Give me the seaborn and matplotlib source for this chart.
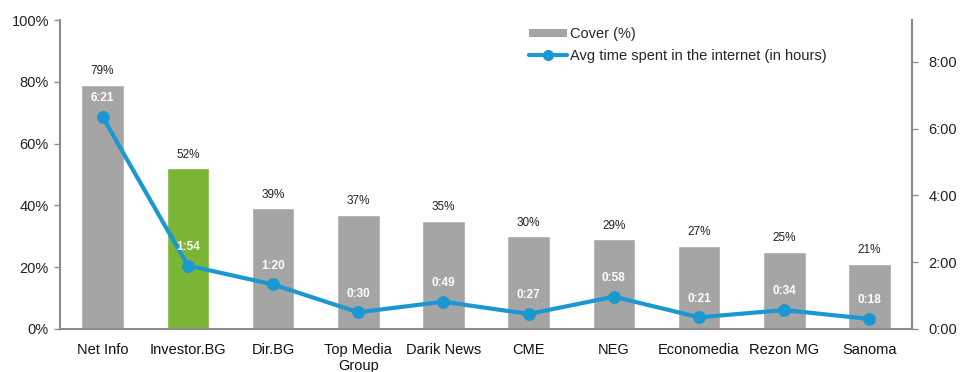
import matplotlib
matplotlib.use("Agg")
import matplotlib.pyplot as plt
import seaborn as sns
import pandas as pd
from matplotlib.patches import Patch
from matplotlib.lines import Line2D
from matplotlib.ticker import FixedLocator

categories = ["Net Info", "Investor.BG", "Dir.BG", "Top Media\nGroup", "Darik News",
              "CME", "NEG", "Economedia", "Rezon MG", "Sanoma"]
cover = [0.79, 0.52, 0.39, 0.37, 0.35, 0.30, 0.29, 0.27, 0.25, 0.21]
time_labels = ["6:21", "1:54", "1:20", "0:30", "0:49", "0:27", "0:58", "0:21", "0:34", "0:18"]
hours = [6 + 21/60, 1 + 54/60, 1 + 20/60, 30/60, 49/60, 27/60, 58/60, 21/60, 34/60, 18/60]
cover_labels = ["79%", "52%", "39%", "37%", "35%", "30%", "29%", "27%", "25%", "21%"]
left_ticks = [0, 0.2, 0.4, 0.6, 0.8, 1.0]
left_ticklabels = ["0%", "20%", "40%", "60%", "80%", "100%"]
right_ticks = [0, 2, 4, 6, 8]
right_ticklabels = ["0:00", "2:00", "4:00", "6:00", "8:00"]

GRAY = "#a5a5a5"
GREEN = "#7ab535"
BLUE = "#1b98d1"
AXC = "#8c8c8c"

sns.set_style("white")
plt.rcParams["font.family"] = ["Liberation Sans", "DejaVu Sans"]

df = pd.DataFrame({"cat": categories, "cover": cover, "hours": hours})
palette = [GREEN if c == "Investor.BG" else GRAY for c in categories]

fig = plt.figure(figsize=(9.61, 3.72), dpi=100)
ax = fig.add_axes([60/961, (372-329)/372, (912-60)/961, (329-20)/372])

sns.barplot(data=df, x="cat", y="cover", hue="cat", palette=palette, legend=False,
            width=0.5, ax=ax, saturation=1)
ax.set_ylim(0, 1.0)
ax.set_xlim(-0.5, len(categories) - 0.5)
ax.set_xlabel("")
ax.set_ylabel("")
ax.set_yticks(left_ticks)
ax.set_yticklabels(left_ticklabels, fontsize=10.5, color="#222222")
ax.tick_params(axis="y", direction="out", length=4, color=AXC, width=1, pad=4)
ax.tick_params(axis="x", which="major", length=0, pad=10, labelsize=10.5, labelcolor="#111111")
ax.xaxis.set_minor_locator(FixedLocator([i + 0.5 for i in range(len(categories) - 1)]))
ax.tick_params(axis="x", which="minor", direction="out", length=4, color=AXC, width=1)
for s in ["top"]:
    ax.spines[s].set_visible(False)
for s in ["left", "bottom", "right"]:
    ax.spines[s].set_color(AXC)
    ax.spines[s].set_linewidth(1.5)

for i, (v, lab) in enumerate(zip(cover, cover_labels)):
    ax.text(i, v + 0.025, lab, ha="center", va="bottom", fontsize=8.5, color="#222222")

ax2 = ax.twinx()
sns.pointplot(data=df, x="cat", y="hours", color=BLUE, ax=ax2, markersize=7,
              linewidth=3, errorbar=None)
ax2.set_ylim(0, 9.25)
ax2.set_xlim(-0.5, len(categories) - 0.5)
ax2.set_yticks(right_ticks)
ax2.set_yticklabels(right_ticklabels, fontsize=10.5, color="#222222")
ax2.set_ylabel("")
ax2.set_xlabel("")
ax2.tick_params(axis="y", direction="out", length=4, color=AXC, width=1, pad=8)
for s in ["top", "left", "bottom"]:
    ax2.spines[s].set_visible(False)
ax2.spines["right"].set_color(AXC)
ax2.spines["right"].set_linewidth(1.5)

for i, (h, lab) in enumerate(zip(hours, time_labels)):
    ax2.text(i, h + 0.38, lab, ha="center", va="bottom", fontsize=8.5, color="white",
             fontweight="bold")

handles = [Patch(facecolor=GRAY, edgecolor="none"),
           Line2D([0], [0], color=BLUE, lw=3, marker="o", markersize=7)]
leg = ax.legend(handles, ["Cover (%)", "Avg time spent in the internet (in hours)"],
                loc="upper left", bbox_to_anchor=((522-60)/852, 1.0), frameon=False,
                fontsize=10.5, handlelength=2.6, handleheight=0.5, labelspacing=0.5,
                borderaxespad=0.1, handletextpad=0.2)

fig.savefig("out.png", dpi=100)
